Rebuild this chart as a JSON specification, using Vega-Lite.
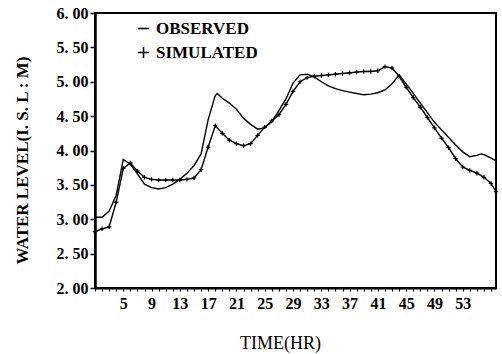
{
  "$schema": "https://vega.github.io/schema/vega-lite/v6.json",
  "autosize": {"type": "none"},
  "width": 401,
  "height": 275,
  "padding": {"left": 95, "top": 13, "right": 6, "bottom": 66},
  "background": "white",
  "config": {
    "view": {"stroke": "black", "strokeWidth": 2},
    "font": "Liberation Serif"
  },
  "data": {
    "values": [
      {"series": "OBSERVED", "hour": 1, "level": 3.03},
      {"series": "OBSERVED", "hour": 2, "level": 3.03},
      {"series": "OBSERVED", "hour": 3, "level": 3.12},
      {"series": "OBSERVED", "hour": 4, "level": 3.35},
      {"series": "OBSERVED", "hour": 5, "level": 3.87},
      {"series": "OBSERVED", "hour": 6, "level": 3.8},
      {"series": "OBSERVED", "hour": 7, "level": 3.66},
      {"series": "OBSERVED", "hour": 8, "level": 3.51},
      {"series": "OBSERVED", "hour": 9, "level": 3.46},
      {"series": "OBSERVED", "hour": 10, "level": 3.44},
      {"series": "OBSERVED", "hour": 11, "level": 3.46},
      {"series": "OBSERVED", "hour": 12, "level": 3.51},
      {"series": "OBSERVED", "hour": 13, "level": 3.58},
      {"series": "OBSERVED", "hour": 14, "level": 3.67},
      {"series": "OBSERVED", "hour": 15, "level": 3.78},
      {"series": "OBSERVED", "hour": 16, "level": 3.95},
      {"series": "OBSERVED", "hour": 17, "level": 4.45},
      {"series": "OBSERVED", "hour": 18, "level": 4.8},
      {"series": "OBSERVED", "hour": 18.3, "level": 4.83},
      {"series": "OBSERVED", "hour": 19, "level": 4.76},
      {"series": "OBSERVED", "hour": 20, "level": 4.69},
      {"series": "OBSERVED", "hour": 21, "level": 4.6},
      {"series": "OBSERVED", "hour": 22, "level": 4.47},
      {"series": "OBSERVED", "hour": 23, "level": 4.38},
      {"series": "OBSERVED", "hour": 24, "level": 4.31},
      {"series": "OBSERVED", "hour": 25, "level": 4.33},
      {"series": "OBSERVED", "hour": 26, "level": 4.42},
      {"series": "OBSERVED", "hour": 27, "level": 4.58},
      {"series": "OBSERVED", "hour": 28, "level": 4.75},
      {"series": "OBSERVED", "hour": 29, "level": 4.98},
      {"series": "OBSERVED", "hour": 30, "level": 5.1},
      {"series": "OBSERVED", "hour": 31, "level": 5.11},
      {"series": "OBSERVED", "hour": 32, "level": 5.07},
      {"series": "OBSERVED", "hour": 33, "level": 5.0},
      {"series": "OBSERVED", "hour": 34, "level": 4.94},
      {"series": "OBSERVED", "hour": 35, "level": 4.9},
      {"series": "OBSERVED", "hour": 36, "level": 4.87},
      {"series": "OBSERVED", "hour": 37, "level": 4.85},
      {"series": "OBSERVED", "hour": 38, "level": 4.83},
      {"series": "OBSERVED", "hour": 39, "level": 4.81},
      {"series": "OBSERVED", "hour": 40, "level": 4.82},
      {"series": "OBSERVED", "hour": 41, "level": 4.84},
      {"series": "OBSERVED", "hour": 42, "level": 4.88},
      {"series": "OBSERVED", "hour": 43, "level": 4.97},
      {"series": "OBSERVED", "hour": 44, "level": 5.1},
      {"series": "OBSERVED", "hour": 45, "level": 4.97},
      {"series": "OBSERVED", "hour": 46, "level": 4.83},
      {"series": "OBSERVED", "hour": 47, "level": 4.69},
      {"series": "OBSERVED", "hour": 48, "level": 4.55},
      {"series": "OBSERVED", "hour": 49, "level": 4.41},
      {"series": "OBSERVED", "hour": 50, "level": 4.3},
      {"series": "OBSERVED", "hour": 51, "level": 4.19},
      {"series": "OBSERVED", "hour": 52, "level": 4.08},
      {"series": "OBSERVED", "hour": 53, "level": 3.98},
      {"series": "OBSERVED", "hour": 54, "level": 3.91},
      {"series": "OBSERVED", "hour": 55, "level": 3.93},
      {"series": "OBSERVED", "hour": 55.6, "level": 3.95},
      {"series": "OBSERVED", "hour": 56, "level": 3.94},
      {"series": "OBSERVED", "hour": 57, "level": 3.89},
      {"series": "OBSERVED", "hour": 57.7, "level": 3.85},
      {"series": "SIMULATED", "hour": 1, "level": 2.82},
      {"series": "SIMULATED", "hour": 2, "level": 2.86},
      {"series": "SIMULATED", "hour": 3, "level": 2.89},
      {"series": "SIMULATED", "hour": 4, "level": 3.25},
      {"series": "SIMULATED", "hour": 5, "level": 3.74},
      {"series": "SIMULATED", "hour": 6, "level": 3.82},
      {"series": "SIMULATED", "hour": 7, "level": 3.7},
      {"series": "SIMULATED", "hour": 8, "level": 3.61},
      {"series": "SIMULATED", "hour": 9, "level": 3.58},
      {"series": "SIMULATED", "hour": 10, "level": 3.57},
      {"series": "SIMULATED", "hour": 11, "level": 3.57},
      {"series": "SIMULATED", "hour": 12, "level": 3.57},
      {"series": "SIMULATED", "hour": 13, "level": 3.57},
      {"series": "SIMULATED", "hour": 14, "level": 3.58},
      {"series": "SIMULATED", "hour": 15, "level": 3.6},
      {"series": "SIMULATED", "hour": 16, "level": 3.72},
      {"series": "SIMULATED", "hour": 17, "level": 4.05},
      {"series": "SIMULATED", "hour": 18, "level": 4.36},
      {"series": "SIMULATED", "hour": 19, "level": 4.25},
      {"series": "SIMULATED", "hour": 20, "level": 4.15},
      {"series": "SIMULATED", "hour": 21, "level": 4.1},
      {"series": "SIMULATED", "hour": 22, "level": 4.07},
      {"series": "SIMULATED", "hour": 23, "level": 4.1},
      {"series": "SIMULATED", "hour": 24, "level": 4.22},
      {"series": "SIMULATED", "hour": 25, "level": 4.34},
      {"series": "SIMULATED", "hour": 26, "level": 4.43},
      {"series": "SIMULATED", "hour": 27, "level": 4.52},
      {"series": "SIMULATED", "hour": 28, "level": 4.67},
      {"series": "SIMULATED", "hour": 29, "level": 4.86},
      {"series": "SIMULATED", "hour": 30, "level": 5.0},
      {"series": "SIMULATED", "hour": 31, "level": 5.06},
      {"series": "SIMULATED", "hour": 32, "level": 5.08},
      {"series": "SIMULATED", "hour": 33, "level": 5.09},
      {"series": "SIMULATED", "hour": 34, "level": 5.1},
      {"series": "SIMULATED", "hour": 35, "level": 5.11},
      {"series": "SIMULATED", "hour": 36, "level": 5.12},
      {"series": "SIMULATED", "hour": 37, "level": 5.13},
      {"series": "SIMULATED", "hour": 38, "level": 5.14},
      {"series": "SIMULATED", "hour": 39, "level": 5.15},
      {"series": "SIMULATED", "hour": 40, "level": 5.15},
      {"series": "SIMULATED", "hour": 41, "level": 5.16},
      {"series": "SIMULATED", "hour": 42, "level": 5.22},
      {"series": "SIMULATED", "hour": 43, "level": 5.2},
      {"series": "SIMULATED", "hour": 44, "level": 5.08},
      {"series": "SIMULATED", "hour": 45, "level": 4.92},
      {"series": "SIMULATED", "hour": 46, "level": 4.77},
      {"series": "SIMULATED", "hour": 47, "level": 4.63},
      {"series": "SIMULATED", "hour": 48, "level": 4.48},
      {"series": "SIMULATED", "hour": 49, "level": 4.33},
      {"series": "SIMULATED", "hour": 50, "level": 4.18},
      {"series": "SIMULATED", "hour": 51, "level": 4.04},
      {"series": "SIMULATED", "hour": 52, "level": 3.88},
      {"series": "SIMULATED", "hour": 53, "level": 3.76},
      {"series": "SIMULATED", "hour": 54, "level": 3.71},
      {"series": "SIMULATED", "hour": 55, "level": 3.67},
      {"series": "SIMULATED", "hour": 56, "level": 3.61},
      {"series": "SIMULATED", "hour": 57, "level": 3.52},
      {"series": "SIMULATED", "hour": 57.7, "level": 3.4}
    ]
  },
  "encoding": {
    "x": {
      "field": "hour",
      "type": "quantitative",
      "scale": {"domain": [1, 57.7], "nice": false, "zero": false},
      "axis": {
        "title": "TIME(HR)",
        "values": [1,2,3,4,5,6,7,8,9,10,11,12,13,14,15,16,17,18,19,20,21,22,23,24,25,26,27,28,29,30,31,32,33,34,35,36,37,38,39,40,41,42,43,44,45,46,47,48,49,50,51,52,53,54,55,56,57],
        "labelExpr": "((datum.value - 1) % 4 == 0 && datum.value > 1 && datum.value < 55) ? datum.value : ''",
        "labelOverlap": false,
        "labelFlush": false,
        "grid": false,
        "tickSize": 3,
        "tickWidth": 1.2,
        "tickColor": "black",
        "domainColor": "black",
        "domainWidth": 2,
        "labelFont": "Liberation Serif",
        "labelFontWeight": "bold",
        "labelFontSize": 16,
        "labelColor": "black",
        "labelPadding": 4,
        "titleFont": "Liberation Serif",
        "titleFontWeight": "normal",
        "titleFontSize": 18,
        "titleColor": "black",
        "titleX": 185,
        "titleY": 55,
        "titleAlign": "center",
        "titleBaseline": "middle"
      }
    },
    "y": {
      "field": "level",
      "type": "quantitative",
      "scale": {"domain": [2, 6], "nice": false, "zero": false},
      "axis": {
        "title": "WATER LEVEL(I. S. L : M)",
        "values": [2, 2.5, 3, 3.5, 4, 4.5, 5, 5.5, 6],
        "labelExpr": "replace(format(datum.value, '.2f'), '.', '. ')",
        "grid": false,
        "tickSize": 5,
        "tickWidth": 1.5,
        "tickColor": "black",
        "domainColor": "black",
        "domainWidth": 2.5,
        "labelFont": "Liberation Serif",
        "labelFontWeight": "bold",
        "labelFontSize": 16,
        "labelColor": "black",
        "labelPadding": 2,
        "titleFont": "Liberation Serif",
        "titleFontWeight": "bold",
        "titleFontSize": 17,
        "titleColor": "black",
        "titleX": -73,
        "titleY": 147,
        "titleAngle": -90,
        "titleAlign": "center",
        "titleBaseline": "middle"
      }
    }
  },
  "layer": [
    {
      "mark": {"type": "line", "color": "black", "strokeWidth": 1.4},
      "encoding": {"detail": {"field": "series", "type": "nominal"}}
    },
    {
      "transform": [{"filter": "datum.series == 'SIMULATED'"}],
      "mark": {"type": "point", "filled": false, "color": "black", "strokeWidth": 1.2, "size": 20, "opacity": 1},
      "encoding": {
        "shape": {
          "field": "series",
          "type": "nominal",
          "scale": {"domain": ["OBSERVED", "SIMULATED"], "range": ["M-1,0L1,0", "M-1,0L1,0M0,-1L0,1"]},
          "legend": {
            "title": null,
            "orient": "none",
            "legendX": 40,
            "legendY": 7,
            "symbolSize": 121,
            "symbolStrokeWidth": 1.6,
            "symbolStrokeColor": "black",
            "symbolFillColor": "transparent",
            "labelFont": "Liberation Serif",
            "labelFontWeight": "bold",
            "labelFontSize": 17,
            "labelColor": "black",
            "labelOffset": 4,
            "rowPadding": 6
          }
        }
      }
    }
  ]
}
